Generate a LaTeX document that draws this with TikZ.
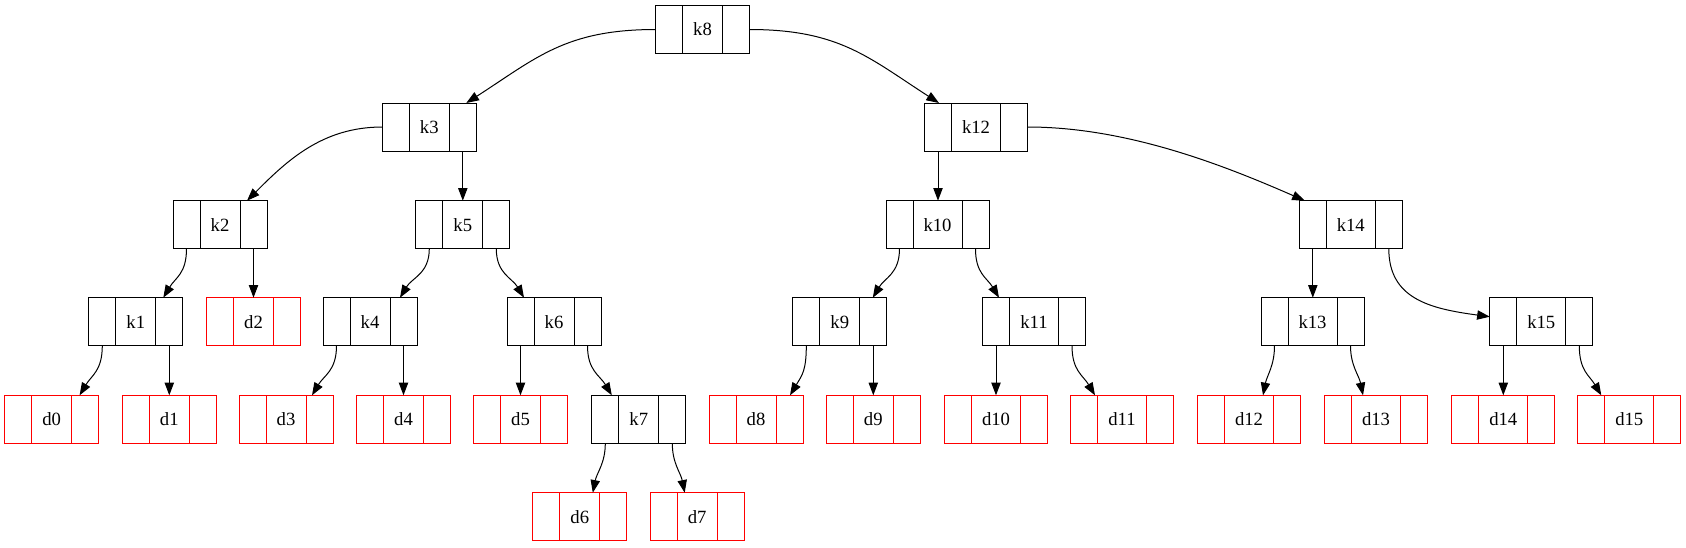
\documentclass[tikz,border=0pt]{standalone}
\usepackage{fontspec}
\setmainfont{Liberation Serif}
\usetikzlibrary{calc,arrows.meta}
\newcommand\recnode[6]{%
  \node[recbox, draw=#5, #6] (#1) at (#2,#3) {#4};
  \draw[divider, #5] ($(#1.north west)+(27,0)$) -- ($(#1.south west)+(27,0)$);
  \draw[divider, #5] ($(#1.north east)+(-27,0)$) -- ($(#1.south east)+(-27,0)$);
  \coordinate (#1-l) at ($(#1.south west)+(13.5,0)$);
  \coordinate (#1-r) at ($(#1.south east)+(-13.5,0)$);
}
\begin{document}
\begin{tikzpicture}[x=0.75pt,y=-0.75pt,
  recbox/.style={line width=0.75pt, minimum height=36pt, inner sep=0pt, outer sep=0pt, font=\fontsize{14}{16}\selectfont},
  divider/.style={line width=0.75pt},
  sw/.style={minimum width=70.5pt},
  dw/.style={minimum width=77.25pt},
  edge/.style={line width=0.75pt, -{Triangle[length=9.5pt,width=7pt]}}]
\useasboundingbox (0,0) rectangle (1686,547);
% row 0
\recnode{k8}{702.5}{29.5}{k8}{black}{sw}
% row 1
\recnode{k3}{429.3}{127}{k3}{black}{sw}
\recnode{k12}{976}{127}{k12}{black}{dw}
% row 2
\recnode{k2}{220}{224.7}{k2}{black}{sw}
\recnode{k5}{462.8}{224.7}{k5}{black}{sw}
\recnode{k10}{937.5}{224.7}{k10}{black}{dw}
\recnode{k14}{1350.8}{224.7}{k14}{black}{dw}
% row 3
\recnode{k1}{135.8}{321.7}{k1}{black}{sw}
\recnode{d2}{253.5}{321.7}{d2}{red}{sw}
\recnode{k4}{370}{321.7}{k4}{black}{sw}
\recnode{k6}{554}{321.7}{k6}{black}{sw}
\recnode{k9}{839.8}{321.7}{k9}{black}{sw}
\recnode{k11}{1034}{321.7}{k11}{black}{dw}
\recnode{k13}{1312.5}{321.7}{k13}{black}{dw}
\recnode{k15}{1541.3}{321.7}{k15}{black}{dw}
% row 4
\recnode{d0}{51.6}{419.3}{d0}{red}{sw}
\recnode{d1}{169.3}{419.3}{d1}{red}{sw}
\recnode{d3}{286}{419.3}{d3}{red}{sw}
\recnode{d4}{403.5}{419.3}{d4}{red}{sw}
\recnode{d5}{520.5}{419.3}{d5}{red}{sw}
\recnode{k7}{638.8}{419.3}{k7}{black}{sw}
\recnode{d8}{756}{419.3}{d8}{red}{sw}
\recnode{d9}{873.3}{419.3}{d9}{red}{sw}
\recnode{d10}{996}{419.3}{d10}{red}{dw}
\recnode{d11}{1122}{419.3}{d11}{red}{dw}
\recnode{d12}{1249}{419.3}{d12}{red}{dw}
\recnode{d13}{1376}{419.3}{d13}{red}{dw}
\recnode{d14}{1503.3}{419.3}{d14}{red}{dw}
\recnode{d15}{1629.3}{419.3}{d15}{red}{dw}
% row 5
\recnode{d6}{579.8}{516.7}{d6}{red}{sw}
\recnode{d7}{697.2}{516.7}{d7}{red}{sw}
% edges
\draw[edge] (k8.west) .. controls +(-90,0) and +(70,-45) .. ($(k3.north)+(37,0)$);
\draw[edge] (k8.east) .. controls +(90,0) and +(-70,-45) .. ($(k12.north)+(-37,0)$);
\draw[edge] (k3.west) .. controls +(-60,0) and +(40,-40) .. ($(k2.north)+(27,0)$);
\draw[edge] (k3-r) -- (k3-r |- k5.north);
\draw[edge] (k2-l) .. controls +(0,25) and +(12,-20) .. ($(k1.north)+(27.5,0)$);
\draw[edge] (k2-r) -- (k2-r |- d2.north);
\draw[edge] (k5-l) .. controls +(0,25) and +(12,-20) .. ($(k4.north)+(30,0)$);
\draw[edge] (k5-r) .. controls +(0,25) and +(-12,-20) .. ($(k6.north)+(-30,0)$);
\draw[edge] (k1-l) .. controls +(0,25) and +(12,-20) .. ($(d0.north)+(28,0)$);
\draw[edge] (k1-r) -- (k1-r |- d1.north);
\draw[edge] (k4-l) .. controls +(0,25) and +(12,-20) .. ($(d3.north)+(26,0)$);
\draw[edge] (k4-r) -- (k4-r |- d4.north);
\draw[edge] (k6-l) -- (k6-l |- d5.north);
\draw[edge] (k6-r) .. controls +(0,25) and +(-12,-20) .. ($(k7.north)+(-27,0)$);
\draw[edge] (k7-l) .. controls +(0,20) and +(4,-20) .. ($(d6.north)+(13,0)$);
\draw[edge] (k7-r) .. controls +(0,20) and +(-4,-20) .. ($(d7.north)+(-12.5,0)$);
\draw[edge] (k12-l) -- (k12-l |- k10.north);
\draw[edge] (k12.east) .. controls +(100,0) and +(-80,-35) .. ($(k14.north)+(-46,0)$);
\draw[edge] (k10-l) .. controls +(0,25) and +(12,-20) .. ($(k9.north)+(33,0)$);
\draw[edge] (k10-r) .. controls +(0,25) and +(-12,-20) .. ($(k11.north)+(-35,0)$);
\draw[edge] (k14-l) -- (k14-l |- k13.north);
\draw[edge] (k14-r) .. controls +(0,50) and +(-60,-8) .. ($(k15.west)+(0,-5)$);
\draw[edge] (k9-l) .. controls +(0,25) and +(12,-20) .. ($(d8.north)+(34,0)$);
\draw[edge] (k9-r) -- (k9-r |- d9.north);
\draw[edge] (k11-l) -- (k11-l |- d10.north);
\draw[edge] (k11-r) .. controls +(0,25) and +(-12,-20) .. ($(d11.north)+(-27,0)$);
\draw[edge] (k13-l) .. controls +(0,20) and +(4,-20) .. ($(d12.north)+(14,0)$);
\draw[edge] (k13-r) .. controls +(0,20) and +(-4,-20) .. ($(d13.north)+(-13,0)$);
\draw[edge] (k15-l) -- (k15-l |- d14.north);
\draw[edge] (k15-r) .. controls +(0,25) and +(-12,-20) .. ($(d15.north)+(-28,0)$);
\end{tikzpicture}
\end{document}
